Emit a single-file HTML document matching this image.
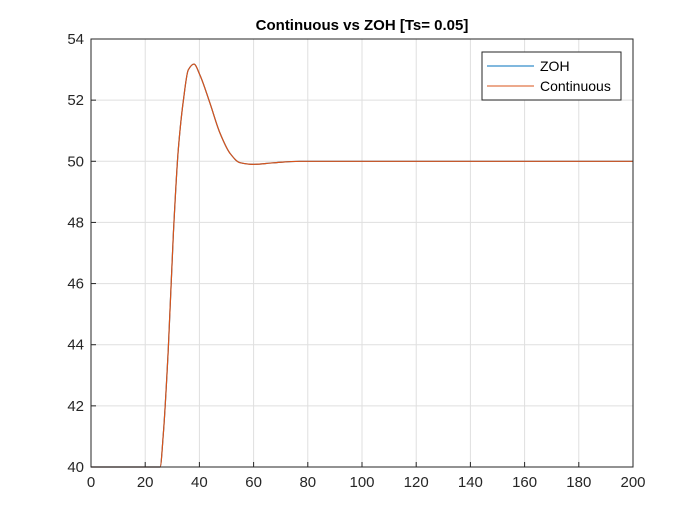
<!DOCTYPE html>
<html><head><meta charset="utf-8"><style>
body{margin:0;background:#fff;}
svg text{font-family:"Liberation Sans",Arial,sans-serif;}
</style></head><body>
<svg id="chart" width="700" height="525" xmlns="http://www.w3.org/2000/svg">
<rect x="0" y="0" width="700" height="525" fill="#fff"/>
<rect x="91" y="39" width="542" height="428" fill="#fff"/>
<g id="grid"></g>
<g id="series"></g>
<rect x="91" y="39" width="542" height="428" fill="none" stroke="#262626" stroke-width="1"/>
<g id="ticks"></g>
<text x="362" y="30" text-anchor="middle" font-size="15" font-weight="bold" fill="#000">Continuous vs ZOH [Ts= 0.05]</text>
<g>
<rect x="482" y="52" width="139" height="48" fill="#fff" stroke="#262626" stroke-width="1"/>
<line x1="487" y1="66" x2="534" y2="66" stroke="#0072BD" stroke-width="1"/>
<text x="540" y="71" font-size="14" fill="#000">ZOH</text>
<line x1="487" y1="86" x2="534" y2="86" stroke="#D95319" stroke-width="1"/>
<text x="540" y="91" font-size="14" fill="#000">Continuous</text>
</g>
</svg>
<script>
const xTicks=[0,20,40,60,80,100,120,140,160,180,200];
const yTicks=[40,42,44,46,48,50,52,54];
const tValues=[0,25.5,26.7,28.5,30.4,32.2,34.1,35.9,38,40.2,43.9,47.6,51.3,55,59.9,67.3,77,200];
const zohValues=[40,40,41.1,43.83,47.64,50.37,52.0,52.99,53.18,52.82,51.9,50.92,50.26,49.955,49.9,49.95,50.0,50.0];
const contValues=[40,40,41.1,43.83,47.64,50.37,52.0,52.99,53.18,52.82,51.9,50.92,50.26,49.955,49.9,49.95,50.0,50.0];
const NS="http://www.w3.org/2000/svg";
const X0=91,X1=633,Y0=467,Y1=39;
function xs(v){return X0+(v-0)/(200-0)*(X1-X0);}
function ys(v){return Y0-(v-40)/(54-40)*(Y0-Y1);}
const grid=document.getElementById('grid'),ticks=document.getElementById('ticks'),ser=document.getElementById('series');
function mk(tag,attrs,parent){const e=document.createElementNS(NS,tag);for(const k in attrs)e.setAttribute(k,attrs[k]);parent.appendChild(e);return e;}
xTicks.forEach(v=>{
  const x=xs(v);
  const g=mk('line',{x1:x,y1:Y1,x2:x,y2:Y0,stroke:'#dfdfdf','stroke-width':1},grid);
  
  
  const t=mk('line',{x1:x,y1:Y0,x2:x,y2:Y0-5,stroke:'#262626','stroke-width':1},ticks);
  
  
  const l=mk('text',{x:x,y:Y0+20,'text-anchor':'middle','font-size':15,fill:'#262626'},ticks);
  l.textContent=v;
  
  
});
yTicks.forEach(v=>{
  const y=ys(v);
  const g=mk('line',{x1:X0,y1:y,x2:X1,y2:y,stroke:'#dfdfdf','stroke-width':1},grid);
  
  
  const t=mk('line',{x1:X0,y1:y,x2:X0+5,y2:y,stroke:'#262626','stroke-width':1},ticks);
  
  
  const l=mk('text',{x:X0-7,y:y+5,'text-anchor':'end','font-size':15,fill:'#262626'},ticks);
  l.textContent=v;
  
  
});
function path(vals,color){
  const P=tValues.map((t,i)=>[xs(t),ys(vals[i])]);
  const n=P.length,dx=[],sl=[],m=[];
  for(let i=0;i<n-1;i++){dx[i]=P[i+1][0]-P[i][0];sl[i]=(P[i+1][1]-P[i][1])/dx[i];}
  m[0]=sl[0];m[n-1]=sl[n-2];
  for(let i=1;i<n-1;i++){
    if(sl[i-1]*sl[i]<=0)m[i]=0;
    else{const w1=2*dx[i]+dx[i-1],w2=dx[i]+2*dx[i-1];m[i]=(w1+w2)/(w1/sl[i-1]+w2/sl[i]);}
  }
  let d='M'+P[0][0].toFixed(2)+' '+P[0][1].toFixed(2);
  for(let i=0;i<n-1;i++){
    const h=dx[i]/3;
    d+='C'+(P[i][0]+h).toFixed(2)+' '+(P[i][1]+m[i]*h).toFixed(2)+' '+(P[i+1][0]-h).toFixed(2)+' '+(P[i+1][1]-m[i+1]*h).toFixed(2)+' '+P[i+1][0].toFixed(2)+' '+P[i+1][1].toFixed(2);
  }
  return mk('path',{d:d,fill:'none',stroke:color,'stroke-width':1.2,'stroke-linejoin':'round'},ser);
}
const p1=path(zohValues,'#0072BD');


const p2=path(contValues,'#D95319');


</script>
</body></html>
